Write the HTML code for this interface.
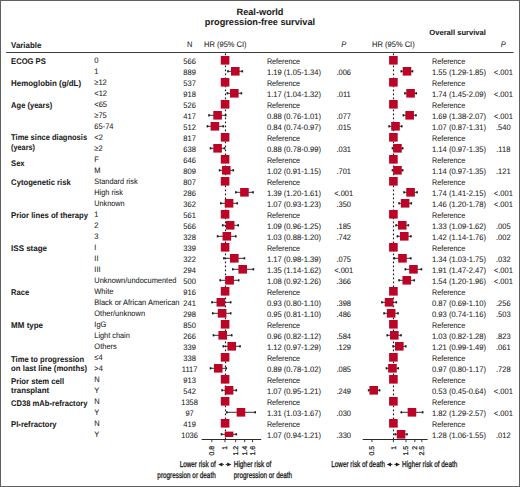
<!DOCTYPE html><html><head><meta charset="utf-8"><style>html,body{margin:0;padding:0;background:#fff}svg{display:block}text{text-rendering:geometricPrecision;font-family:"Liberation Sans",sans-serif;fill:#1a1a1a;stroke:#1a1a1a;stroke-width:0.06px}</style></head><body>
<svg width="520" height="487" viewBox="0 0 520 487">
<rect x="0" y="0" width="520" height="487" fill="#fff"/>
<text x="260.00" y="14.50" font-size="9.2" font-weight="bold" text-anchor="middle">Real-world</text>
<text x="260.00" y="24.90" font-size="9.2" font-weight="bold" text-anchor="middle">progression-free survival</text>
<text x="457.60" y="35.00" font-size="7.6" font-weight="bold" text-anchor="middle">Overall survival</text>
<text transform="translate(11.10,47.60) scale(0.960,1)" font-size="8.2" font-weight="bold">Variable</text>
<text transform="translate(189.60,46.60) scale(0.940,1)" font-size="8.0" text-anchor="middle">N</text>
<text transform="translate(225.30,46.60) scale(0.940,1)" font-size="8.0" text-anchor="middle">HR (95% CI)</text>
<text transform="translate(343.70,46.60) scale(0.940,1)" font-size="8.0" font-style="italic" text-anchor="middle">P</text>
<text transform="translate(393.40,46.60) scale(0.940,1)" font-size="8.0" text-anchor="middle">HR (95% CI)</text>
<text transform="translate(503.30,46.60) scale(0.940,1)" font-size="8.0" font-style="italic" text-anchor="middle">P</text>
<line x1="6.2" y1="52.5" x2="513.5" y2="52.5" stroke="#3c3c3c" stroke-width="1"/>
<line x1="225.5" y1="53.5" x2="225.5" y2="439.0" stroke="#1a1a1a" stroke-width="1.15" stroke-dasharray="1.7 2.3"/>
<line x1="393.5" y1="53.5" x2="393.5" y2="439.0" stroke="#1a1a1a" stroke-width="1.15" stroke-dasharray="1.7 2.3"/>
<text transform="translate(11.10,64.40) scale(0.929,1)" font-size="8.2" font-weight="bold">ECOG PS</text>
<text transform="translate(94.30,63.40) scale(0.940,1)" font-size="8.0">0</text>
<text transform="translate(189.60,63.70) scale(0.940,1)" font-size="8.0" text-anchor="middle">566</text>
<text transform="translate(266.90,63.70) scale(0.900,1)" font-size="8.0">Reference</text>
<rect x="220.80" y="56.00" width="8.6" height="8.6" fill="#bc0426"/>
<text transform="translate(432.00,63.70) scale(0.900,1)" font-size="8.0">Reference</text>
<rect x="389.10" y="56.00" width="8.6" height="8.6" fill="#bc0426"/>
<text transform="translate(94.30,74.40) scale(0.940,1)" font-size="8.0">1</text>
<text transform="translate(189.60,74.70) scale(0.940,1)" font-size="8.0" text-anchor="middle">889</text>
<text transform="translate(266.90,74.70) scale(0.950,1)" font-size="8.0">1.19 (1.05-1.34)</text>
<text transform="translate(343.70,74.70) scale(0.940,1)" font-size="8.0" text-anchor="middle">.006</text>
<line x1="227.96" y1="71.30" x2="242.28" y2="71.30" stroke="#1a1a1a" stroke-width="0.9"/>
<rect x="227.16" y="70.20" width="1.6" height="2.2" fill="#1a1a1a"/>
<rect x="241.48" y="70.20" width="1.6" height="2.2" fill="#1a1a1a"/>
<rect x="231.01" y="67.00" width="8.6" height="8.6" fill="#bc0426"/>
<text transform="translate(432.00,74.70) scale(0.950,1)" font-size="8.0">1.55 (1.29-1.85)</text>
<text transform="translate(503.30,74.70) scale(0.940,1)" font-size="8.0" text-anchor="middle">&lt;.001</text>
<line x1="401.29" y1="71.30" x2="412.47" y2="71.30" stroke="#1a1a1a" stroke-width="0.9"/>
<rect x="400.49" y="70.20" width="1.6" height="2.2" fill="#1a1a1a"/>
<rect x="411.67" y="70.20" width="1.6" height="2.2" fill="#1a1a1a"/>
<rect x="402.69" y="67.00" width="8.6" height="8.6" fill="#bc0426"/>
<text transform="translate(11.10,86.40) scale(0.967,1)" font-size="8.2" font-weight="bold">Hemoglobin (g/dL)</text>
<text transform="translate(94.30,85.40) scale(0.940,1)" font-size="8.0">≥12</text>
<text transform="translate(189.60,85.70) scale(0.940,1)" font-size="8.0" text-anchor="middle">537</text>
<text transform="translate(266.90,85.70) scale(0.900,1)" font-size="8.0">Reference</text>
<rect x="220.80" y="78.00" width="8.6" height="8.6" fill="#bc0426"/>
<text transform="translate(432.00,85.70) scale(0.900,1)" font-size="8.0">Reference</text>
<rect x="389.10" y="78.00" width="8.6" height="8.6" fill="#bc0426"/>
<text transform="translate(94.30,96.40) scale(0.940,1)" font-size="8.0">&lt;12</text>
<text transform="translate(189.60,96.70) scale(0.940,1)" font-size="8.0" text-anchor="middle">918</text>
<text transform="translate(266.90,96.70) scale(0.950,1)" font-size="8.0">1.17 (1.04-1.32)</text>
<text transform="translate(343.70,96.70) scale(0.940,1)" font-size="8.0" text-anchor="middle">.011</text>
<line x1="227.40" y1="93.30" x2="241.40" y2="93.30" stroke="#1a1a1a" stroke-width="0.9"/>
<rect x="226.60" y="92.20" width="1.6" height="2.2" fill="#1a1a1a"/>
<rect x="240.60" y="92.20" width="1.6" height="2.2" fill="#1a1a1a"/>
<rect x="230.02" y="89.00" width="8.6" height="8.6" fill="#bc0426"/>
<text transform="translate(432.00,96.70) scale(0.950,1)" font-size="8.0">1.74 (1.45-2.09)</text>
<text transform="translate(503.30,96.70) scale(0.940,1)" font-size="8.0" text-anchor="middle">&lt;.001</text>
<line x1="404.92" y1="93.30" x2="416.25" y2="93.30" stroke="#1a1a1a" stroke-width="0.9"/>
<rect x="404.12" y="92.20" width="1.6" height="2.2" fill="#1a1a1a"/>
<rect x="415.45" y="92.20" width="1.6" height="2.2" fill="#1a1a1a"/>
<rect x="406.27" y="89.00" width="8.6" height="8.6" fill="#bc0426"/>
<text transform="translate(11.10,108.40) scale(0.922,1)" font-size="8.2" font-weight="bold">Age (years)</text>
<text transform="translate(94.30,107.40) scale(0.940,1)" font-size="8.0">&lt;65</text>
<text transform="translate(189.60,107.70) scale(0.940,1)" font-size="8.0" text-anchor="middle">526</text>
<text transform="translate(266.90,107.70) scale(0.900,1)" font-size="8.0">Reference</text>
<rect x="220.80" y="100.00" width="8.6" height="8.6" fill="#bc0426"/>
<text transform="translate(432.00,107.70) scale(0.900,1)" font-size="8.0">Reference</text>
<rect x="389.10" y="100.00" width="8.6" height="8.6" fill="#bc0426"/>
<text transform="translate(94.30,118.40) scale(0.940,1)" font-size="8.0">≥75</text>
<text transform="translate(189.60,118.70) scale(0.940,1)" font-size="8.0" text-anchor="middle">417</text>
<text transform="translate(266.90,118.70) scale(0.950,1)" font-size="8.0">0.88 (0.76-1.01)</text>
<text transform="translate(343.70,118.70) scale(0.940,1)" font-size="8.0" text-anchor="middle">.077</text>
<line x1="208.99" y1="115.30" x2="225.68" y2="115.30" stroke="#1a1a1a" stroke-width="0.9"/>
<rect x="208.19" y="114.20" width="1.6" height="2.2" fill="#1a1a1a"/>
<rect x="224.88" y="114.20" width="1.6" height="2.2" fill="#1a1a1a"/>
<rect x="213.30" y="111.00" width="8.6" height="8.6" fill="#bc0426"/>
<text transform="translate(432.00,118.70) scale(0.950,1)" font-size="8.0">1.69 (1.38-2.07)</text>
<text transform="translate(503.30,118.70) scale(0.940,1)" font-size="8.0" text-anchor="middle">&lt;.001</text>
<line x1="403.38" y1="115.30" x2="415.95" y2="115.30" stroke="#1a1a1a" stroke-width="0.9"/>
<rect x="402.58" y="114.20" width="1.6" height="2.2" fill="#1a1a1a"/>
<rect x="415.15" y="114.20" width="1.6" height="2.2" fill="#1a1a1a"/>
<rect x="405.37" y="111.00" width="8.6" height="8.6" fill="#bc0426"/>
<text transform="translate(94.30,129.40) scale(0.940,1)" font-size="8.0">65-74</text>
<text transform="translate(189.60,129.70) scale(0.940,1)" font-size="8.0" text-anchor="middle">512</text>
<text transform="translate(266.90,129.70) scale(0.950,1)" font-size="8.0">0.84 (0.74-0.97)</text>
<text transform="translate(343.70,129.70) scale(0.940,1)" font-size="8.0" text-anchor="middle">.015</text>
<line x1="207.43" y1="126.30" x2="223.31" y2="126.30" stroke="#1a1a1a" stroke-width="0.9"/>
<rect x="206.63" y="125.20" width="1.6" height="2.2" fill="#1a1a1a"/>
<rect x="222.51" y="125.20" width="1.6" height="2.2" fill="#1a1a1a"/>
<rect x="210.57" y="122.00" width="8.6" height="8.6" fill="#bc0426"/>
<text transform="translate(432.00,129.70) scale(0.950,1)" font-size="8.0">1.07 (0.87-1.31)</text>
<text transform="translate(503.30,129.70) scale(0.940,1)" font-size="8.0" text-anchor="middle">.540</text>
<line x1="389.08" y1="126.30" x2="401.77" y2="126.30" stroke="#1a1a1a" stroke-width="0.9"/>
<rect x="388.28" y="125.20" width="1.6" height="2.2" fill="#1a1a1a"/>
<rect x="400.97" y="125.20" width="1.6" height="2.2" fill="#1a1a1a"/>
<rect x="391.20" y="122.00" width="8.6" height="8.6" fill="#bc0426"/>
<text transform="translate(11.10,140.40) scale(0.919,1)" font-size="8.2" font-weight="bold">Time since diagnosis</text>
<text transform="translate(11.10,149.60) scale(0.889,1)" font-size="8.2" font-weight="bold">(years)</text>
<text transform="translate(94.30,140.40) scale(0.940,1)" font-size="8.0">&lt;2</text>
<text transform="translate(189.60,140.70) scale(0.940,1)" font-size="8.0" text-anchor="middle">817</text>
<text transform="translate(266.90,140.70) scale(0.900,1)" font-size="8.0">Reference</text>
<rect x="220.80" y="133.00" width="8.6" height="8.6" fill="#bc0426"/>
<text transform="translate(432.00,140.70) scale(0.900,1)" font-size="8.0">Reference</text>
<rect x="389.10" y="133.00" width="8.6" height="8.6" fill="#bc0426"/>
<text transform="translate(94.30,151.40) scale(0.940,1)" font-size="8.0">≥2</text>
<text transform="translate(189.60,151.70) scale(0.940,1)" font-size="8.0" text-anchor="middle">638</text>
<text transform="translate(266.90,151.70) scale(0.950,1)" font-size="8.0">0.88 (0.78-0.99)</text>
<text transform="translate(343.70,151.70) scale(0.940,1)" font-size="8.0" text-anchor="middle">.031</text>
<line x1="210.52" y1="148.30" x2="224.51" y2="148.30" stroke="#1a1a1a" stroke-width="0.9"/>
<rect x="209.72" y="147.20" width="1.6" height="2.2" fill="#1a1a1a"/>
<rect x="223.71" y="147.20" width="1.6" height="2.2" fill="#1a1a1a"/>
<rect x="213.30" y="144.00" width="8.6" height="8.6" fill="#bc0426"/>
<text transform="translate(432.00,151.70) scale(0.950,1)" font-size="8.0">1.14 (0.97-1.35)</text>
<text transform="translate(503.30,151.70) scale(0.940,1)" font-size="8.0" text-anchor="middle">.118</text>
<line x1="392.46" y1="148.30" x2="402.70" y2="148.30" stroke="#1a1a1a" stroke-width="0.9"/>
<rect x="391.66" y="147.20" width="1.6" height="2.2" fill="#1a1a1a"/>
<rect x="401.90" y="147.20" width="1.6" height="2.2" fill="#1a1a1a"/>
<rect x="393.16" y="144.00" width="8.6" height="8.6" fill="#bc0426"/>
<text transform="translate(11.10,165.70) scale(0.925,1)" font-size="8.2" font-weight="bold">Sex</text>
<text transform="translate(94.30,162.40) scale(0.935,1)" font-size="8.0">F</text>
<text transform="translate(189.60,162.70) scale(0.940,1)" font-size="8.0" text-anchor="middle">646</text>
<text transform="translate(266.90,162.70) scale(0.900,1)" font-size="8.0">Reference</text>
<rect x="220.80" y="155.00" width="8.6" height="8.6" fill="#bc0426"/>
<text transform="translate(432.00,162.70) scale(0.900,1)" font-size="8.0">Reference</text>
<rect x="389.10" y="155.00" width="8.6" height="8.6" fill="#bc0426"/>
<text transform="translate(94.30,173.40) scale(0.935,1)" font-size="8.0">M</text>
<text transform="translate(189.60,173.70) scale(0.940,1)" font-size="8.0" text-anchor="middle">809</text>
<text transform="translate(266.90,173.70) scale(0.950,1)" font-size="8.0">1.02 (0.91-1.15)</text>
<text transform="translate(343.70,173.70) scale(0.940,1)" font-size="8.0" text-anchor="middle">.701</text>
<line x1="219.56" y1="170.30" x2="233.30" y2="170.30" stroke="#1a1a1a" stroke-width="0.9"/>
<rect x="218.76" y="169.20" width="1.6" height="2.2" fill="#1a1a1a"/>
<rect x="232.50" y="169.20" width="1.6" height="2.2" fill="#1a1a1a"/>
<rect x="221.96" y="166.00" width="8.6" height="8.6" fill="#bc0426"/>
<text transform="translate(432.00,173.70) scale(0.950,1)" font-size="8.0">1.14 (0.97-1.35)</text>
<text transform="translate(503.30,173.70) scale(0.940,1)" font-size="8.0" text-anchor="middle">.121</text>
<line x1="392.46" y1="170.30" x2="402.70" y2="170.30" stroke="#1a1a1a" stroke-width="0.9"/>
<rect x="391.66" y="169.20" width="1.6" height="2.2" fill="#1a1a1a"/>
<rect x="401.90" y="169.20" width="1.6" height="2.2" fill="#1a1a1a"/>
<rect x="393.16" y="166.00" width="8.6" height="8.6" fill="#bc0426"/>
<text transform="translate(11.10,184.70) scale(0.936,1)" font-size="8.2" font-weight="bold">Cytogenetic risk</text>
<text transform="translate(94.30,184.40) scale(0.918,1)" font-size="8.0">Standard risk</text>
<text transform="translate(189.60,184.70) scale(0.940,1)" font-size="8.0" text-anchor="middle">807</text>
<text transform="translate(266.90,184.70) scale(0.900,1)" font-size="8.0">Reference</text>
<rect x="220.80" y="177.00" width="8.6" height="8.6" fill="#bc0426"/>
<text transform="translate(432.00,184.70) scale(0.900,1)" font-size="8.0">Reference</text>
<rect x="389.10" y="177.00" width="8.6" height="8.6" fill="#bc0426"/>
<text transform="translate(94.30,195.40) scale(0.919,1)" font-size="8.0">High risk</text>
<text transform="translate(189.60,195.70) scale(0.940,1)" font-size="8.0" text-anchor="middle">286</text>
<text transform="translate(266.90,195.70) scale(0.950,1)" font-size="8.0">1.39 (1.20-1.61)</text>
<text transform="translate(343.70,195.70) scale(0.940,1)" font-size="8.0" text-anchor="middle">&lt;.001</text>
<line x1="235.80" y1="192.30" x2="253.05" y2="192.30" stroke="#1a1a1a" stroke-width="0.9"/>
<rect x="235.00" y="191.20" width="1.6" height="2.2" fill="#1a1a1a"/>
<rect x="252.25" y="191.20" width="1.6" height="2.2" fill="#1a1a1a"/>
<rect x="240.13" y="188.00" width="8.6" height="8.6" fill="#bc0426"/>
<text transform="translate(432.00,195.70) scale(0.950,1)" font-size="8.0">1.74 (1.41-2.15)</text>
<text transform="translate(503.30,195.70) scale(0.940,1)" font-size="8.0" text-anchor="middle">&lt;.001</text>
<line x1="404.05" y1="192.30" x2="417.13" y2="192.30" stroke="#1a1a1a" stroke-width="0.9"/>
<rect x="403.25" y="191.20" width="1.6" height="2.2" fill="#1a1a1a"/>
<rect x="416.33" y="191.20" width="1.6" height="2.2" fill="#1a1a1a"/>
<rect x="406.27" y="188.00" width="8.6" height="8.6" fill="#bc0426"/>
<text transform="translate(94.30,206.40) scale(0.908,1)" font-size="8.0">Unknown</text>
<text transform="translate(189.60,206.70) scale(0.940,1)" font-size="8.0" text-anchor="middle">362</text>
<text transform="translate(266.90,206.70) scale(0.950,1)" font-size="8.0">1.07 (0.93-1.23)</text>
<text transform="translate(343.70,206.70) scale(0.940,1)" font-size="8.0" text-anchor="middle">.350</text>
<line x1="220.84" y1="203.30" x2="237.25" y2="203.30" stroke="#1a1a1a" stroke-width="0.9"/>
<rect x="220.04" y="202.20" width="1.6" height="2.2" fill="#1a1a1a"/>
<rect x="236.45" y="202.20" width="1.6" height="2.2" fill="#1a1a1a"/>
<rect x="224.77" y="199.00" width="8.6" height="8.6" fill="#bc0426"/>
<text transform="translate(432.00,206.70) scale(0.950,1)" font-size="8.0">1.46 (1.20-1.78)</text>
<text transform="translate(503.30,206.70) scale(0.940,1)" font-size="8.0" text-anchor="middle">&lt;.001</text>
<line x1="399.05" y1="203.30" x2="411.28" y2="203.30" stroke="#1a1a1a" stroke-width="0.9"/>
<rect x="398.25" y="202.20" width="1.6" height="2.2" fill="#1a1a1a"/>
<rect x="410.48" y="202.20" width="1.6" height="2.2" fill="#1a1a1a"/>
<rect x="400.83" y="199.00" width="8.6" height="8.6" fill="#bc0426"/>
<text transform="translate(11.10,218.00) scale(0.940,1)" font-size="8.2" font-weight="bold">Prior lines of therapy</text>
<text transform="translate(94.30,217.40) scale(0.940,1)" font-size="8.0">1</text>
<text transform="translate(189.60,217.70) scale(0.940,1)" font-size="8.0" text-anchor="middle">561</text>
<text transform="translate(266.90,217.70) scale(0.900,1)" font-size="8.0">Reference</text>
<rect x="220.80" y="210.00" width="8.6" height="8.6" fill="#bc0426"/>
<text transform="translate(432.00,217.70) scale(0.900,1)" font-size="8.0">Reference</text>
<rect x="389.10" y="210.00" width="8.6" height="8.6" fill="#bc0426"/>
<text transform="translate(94.30,228.40) scale(0.940,1)" font-size="8.0">2</text>
<text transform="translate(189.60,228.70) scale(0.940,1)" font-size="8.0" text-anchor="middle">566</text>
<text transform="translate(266.90,228.70) scale(0.950,1)" font-size="8.0">1.09 (0.96-1.25)</text>
<text transform="translate(343.70,228.70) scale(0.940,1)" font-size="8.0" text-anchor="middle">.185</text>
<line x1="222.70" y1="225.30" x2="238.20" y2="225.30" stroke="#1a1a1a" stroke-width="0.9"/>
<rect x="221.90" y="224.20" width="1.6" height="2.2" fill="#1a1a1a"/>
<rect x="237.40" y="224.20" width="1.6" height="2.2" fill="#1a1a1a"/>
<rect x="225.86" y="221.00" width="8.6" height="8.6" fill="#bc0426"/>
<text transform="translate(432.00,228.70) scale(0.950,1)" font-size="8.0">1.33 (1.09-1.62)</text>
<text transform="translate(503.30,228.70) scale(0.940,1)" font-size="8.0" text-anchor="middle">.005</text>
<line x1="396.07" y1="225.30" x2="408.36" y2="225.30" stroke="#1a1a1a" stroke-width="0.9"/>
<rect x="395.27" y="224.20" width="1.6" height="2.2" fill="#1a1a1a"/>
<rect x="407.56" y="224.20" width="1.6" height="2.2" fill="#1a1a1a"/>
<rect x="397.94" y="221.00" width="8.6" height="8.6" fill="#bc0426"/>
<text transform="translate(94.30,239.40) scale(0.940,1)" font-size="8.0">3</text>
<text transform="translate(189.60,239.70) scale(0.940,1)" font-size="8.0" text-anchor="middle">328</text>
<text transform="translate(266.90,239.70) scale(0.950,1)" font-size="8.0">1.03 (0.88-1.20)</text>
<text transform="translate(343.70,239.70) scale(0.940,1)" font-size="8.0" text-anchor="middle">.742</text>
<line x1="217.60" y1="236.30" x2="235.80" y2="236.30" stroke="#1a1a1a" stroke-width="0.9"/>
<rect x="216.80" y="235.20" width="1.6" height="2.2" fill="#1a1a1a"/>
<rect x="235.00" y="235.20" width="1.6" height="2.2" fill="#1a1a1a"/>
<rect x="222.54" y="232.00" width="8.6" height="8.6" fill="#bc0426"/>
<text transform="translate(432.00,239.70) scale(0.950,1)" font-size="8.0">1.42 (1.14-1.76)</text>
<text transform="translate(503.30,239.70) scale(0.940,1)" font-size="8.0" text-anchor="middle">.002</text>
<line x1="397.46" y1="236.30" x2="410.92" y2="236.30" stroke="#1a1a1a" stroke-width="0.9"/>
<rect x="396.66" y="235.20" width="1.6" height="2.2" fill="#1a1a1a"/>
<rect x="410.12" y="235.20" width="1.6" height="2.2" fill="#1a1a1a"/>
<rect x="399.97" y="232.00" width="8.6" height="8.6" fill="#bc0426"/>
<text transform="translate(11.10,250.70) scale(0.975,1)" font-size="8.2" font-weight="bold">ISS stage</text>
<text transform="translate(94.30,250.40) scale(0.935,1)" font-size="8.0">I</text>
<text transform="translate(189.60,250.70) scale(0.940,1)" font-size="8.0" text-anchor="middle">339</text>
<text transform="translate(266.90,250.70) scale(0.900,1)" font-size="8.0">Reference</text>
<rect x="220.80" y="243.00" width="8.6" height="8.6" fill="#bc0426"/>
<text transform="translate(432.00,250.70) scale(0.900,1)" font-size="8.0">Reference</text>
<rect x="389.10" y="243.00" width="8.6" height="8.6" fill="#bc0426"/>
<text transform="translate(94.30,261.40) scale(0.935,1)" font-size="8.0">II</text>
<text transform="translate(189.60,261.70) scale(0.940,1)" font-size="8.0" text-anchor="middle">322</text>
<text transform="translate(266.90,261.70) scale(0.950,1)" font-size="8.0">1.17 (0.98-1.39)</text>
<text transform="translate(343.70,261.70) scale(0.940,1)" font-size="8.0" text-anchor="middle">.075</text>
<line x1="223.91" y1="258.30" x2="244.43" y2="258.30" stroke="#1a1a1a" stroke-width="0.9"/>
<rect x="223.11" y="257.20" width="1.6" height="2.2" fill="#1a1a1a"/>
<rect x="243.63" y="257.20" width="1.6" height="2.2" fill="#1a1a1a"/>
<rect x="230.02" y="254.00" width="8.6" height="8.6" fill="#bc0426"/>
<text transform="translate(432.00,261.70) scale(0.950,1)" font-size="8.0">1.34 (1.03-1.75)</text>
<text transform="translate(503.30,261.70) scale(0.940,1)" font-size="8.0" text-anchor="middle">.032</text>
<line x1="394.32" y1="258.30" x2="410.75" y2="258.30" stroke="#1a1a1a" stroke-width="0.9"/>
<rect x="393.52" y="257.20" width="1.6" height="2.2" fill="#1a1a1a"/>
<rect x="409.95" y="257.20" width="1.6" height="2.2" fill="#1a1a1a"/>
<rect x="398.17" y="254.00" width="8.6" height="8.6" fill="#bc0426"/>
<text transform="translate(94.30,272.40) scale(0.935,1)" font-size="8.0">III</text>
<text transform="translate(189.60,272.70) scale(0.940,1)" font-size="8.0" text-anchor="middle">294</text>
<text transform="translate(266.90,272.70) scale(0.950,1)" font-size="8.0">1.35 (1.14-1.62)</text>
<text transform="translate(343.70,272.70) scale(0.940,1)" font-size="8.0" text-anchor="middle">&lt;.001</text>
<line x1="232.79" y1="269.30" x2="253.42" y2="269.30" stroke="#1a1a1a" stroke-width="0.9"/>
<rect x="231.99" y="268.20" width="1.6" height="2.2" fill="#1a1a1a"/>
<rect x="252.62" y="268.20" width="1.6" height="2.2" fill="#1a1a1a"/>
<rect x="238.42" y="265.00" width="8.6" height="8.6" fill="#bc0426"/>
<text transform="translate(432.00,272.70) scale(0.950,1)" font-size="8.0">1.91 (1.47-2.47)</text>
<text transform="translate(503.30,272.70) scale(0.940,1)" font-size="8.0" text-anchor="middle">&lt;.001</text>
<line x1="405.34" y1="269.30" x2="421.43" y2="269.30" stroke="#1a1a1a" stroke-width="0.9"/>
<rect x="404.54" y="268.20" width="1.6" height="2.2" fill="#1a1a1a"/>
<rect x="420.63" y="268.20" width="1.6" height="2.2" fill="#1a1a1a"/>
<rect x="409.16" y="265.00" width="8.6" height="8.6" fill="#bc0426"/>
<text transform="translate(94.30,283.40) scale(0.928,1)" font-size="8.0">Unknown/undocumented</text>
<text transform="translate(189.60,283.70) scale(0.940,1)" font-size="8.0" text-anchor="middle">500</text>
<text transform="translate(266.90,283.70) scale(0.950,1)" font-size="8.0">1.08 (0.92-1.26)</text>
<text transform="translate(343.70,283.70) scale(0.940,1)" font-size="8.0" text-anchor="middle">.366</text>
<line x1="220.21" y1="280.30" x2="238.67" y2="280.30" stroke="#1a1a1a" stroke-width="0.9"/>
<rect x="219.41" y="279.20" width="1.6" height="2.2" fill="#1a1a1a"/>
<rect x="237.87" y="279.20" width="1.6" height="2.2" fill="#1a1a1a"/>
<rect x="225.32" y="276.00" width="8.6" height="8.6" fill="#bc0426"/>
<text transform="translate(432.00,283.70) scale(0.950,1)" font-size="8.0">1.54 (1.20-1.96)</text>
<text transform="translate(503.30,283.70) scale(0.940,1)" font-size="8.0" text-anchor="middle">&lt;.001</text>
<line x1="399.05" y1="280.30" x2="414.26" y2="280.30" stroke="#1a1a1a" stroke-width="0.9"/>
<rect x="398.25" y="279.20" width="1.6" height="2.2" fill="#1a1a1a"/>
<rect x="413.46" y="279.20" width="1.6" height="2.2" fill="#1a1a1a"/>
<rect x="402.49" y="276.00" width="8.6" height="8.6" fill="#bc0426"/>
<text transform="translate(11.10,294.70) scale(0.923,1)" font-size="8.2" font-weight="bold">Race</text>
<text transform="translate(94.30,294.40) scale(0.935,1)" font-size="8.0">White</text>
<text transform="translate(189.60,294.70) scale(0.940,1)" font-size="8.0" text-anchor="middle">916</text>
<text transform="translate(266.90,294.70) scale(0.900,1)" font-size="8.0">Reference</text>
<rect x="220.80" y="287.00" width="8.6" height="8.6" fill="#bc0426"/>
<text transform="translate(432.00,294.70) scale(0.900,1)" font-size="8.0">Reference</text>
<rect x="389.10" y="287.00" width="8.6" height="8.6" fill="#bc0426"/>
<text transform="translate(94.30,305.40) scale(0.935,1)" font-size="8.0">Black or African American</text>
<text transform="translate(189.60,305.70) scale(0.940,1)" font-size="8.0" text-anchor="middle">241</text>
<text transform="translate(266.90,305.70) scale(0.950,1)" font-size="8.0">0.93 (0.80-1.10)</text>
<text transform="translate(343.70,305.70) scale(0.940,1)" font-size="8.0" text-anchor="middle">.398</text>
<line x1="212.00" y1="302.30" x2="230.69" y2="302.30" stroke="#1a1a1a" stroke-width="0.9"/>
<rect x="211.20" y="301.20" width="1.6" height="2.2" fill="#1a1a1a"/>
<rect x="229.89" y="301.20" width="1.6" height="2.2" fill="#1a1a1a"/>
<rect x="216.54" y="298.00" width="8.6" height="8.6" fill="#bc0426"/>
<text transform="translate(432.00,305.70) scale(0.950,1)" font-size="8.0">0.87 (0.69-1.10)</text>
<text transform="translate(503.30,305.70) scale(0.940,1)" font-size="8.0" text-anchor="middle">.256</text>
<line x1="381.90" y1="302.30" x2="396.35" y2="302.30" stroke="#1a1a1a" stroke-width="0.9"/>
<rect x="381.10" y="301.20" width="1.6" height="2.2" fill="#1a1a1a"/>
<rect x="395.55" y="301.20" width="1.6" height="2.2" fill="#1a1a1a"/>
<rect x="384.78" y="298.00" width="8.6" height="8.6" fill="#bc0426"/>
<text transform="translate(94.30,316.40) scale(0.936,1)" font-size="8.0">Other/unknown</text>
<text transform="translate(189.60,316.70) scale(0.940,1)" font-size="8.0" text-anchor="middle">298</text>
<text transform="translate(266.90,316.70) scale(0.950,1)" font-size="8.0">0.95 (0.81-1.10)</text>
<text transform="translate(343.70,316.70) scale(0.940,1)" font-size="8.0" text-anchor="middle">.486</text>
<line x1="212.73" y1="313.30" x2="230.69" y2="313.30" stroke="#1a1a1a" stroke-width="0.9"/>
<rect x="211.93" y="312.20" width="1.6" height="2.2" fill="#1a1a1a"/>
<rect x="229.89" y="312.20" width="1.6" height="2.2" fill="#1a1a1a"/>
<rect x="217.79" y="309.00" width="8.6" height="8.6" fill="#bc0426"/>
<text transform="translate(432.00,316.70) scale(0.950,1)" font-size="8.0">0.93 (0.74-1.16)</text>
<text transform="translate(503.30,316.70) scale(0.940,1)" font-size="8.0" text-anchor="middle">.503</text>
<line x1="384.07" y1="313.30" x2="398.00" y2="313.30" stroke="#1a1a1a" stroke-width="0.9"/>
<rect x="383.27" y="312.20" width="1.6" height="2.2" fill="#1a1a1a"/>
<rect x="397.20" y="312.20" width="1.6" height="2.2" fill="#1a1a1a"/>
<rect x="386.85" y="309.00" width="8.6" height="8.6" fill="#bc0426"/>
<text transform="translate(11.10,327.70) scale(0.976,1)" font-size="8.2" font-weight="bold">MM type</text>
<text transform="translate(94.30,327.40) scale(0.935,1)" font-size="8.0">IgG</text>
<text transform="translate(189.60,327.70) scale(0.940,1)" font-size="8.0" text-anchor="middle">850</text>
<text transform="translate(266.90,327.70) scale(0.900,1)" font-size="8.0">Reference</text>
<rect x="220.80" y="320.00" width="8.6" height="8.6" fill="#bc0426"/>
<text transform="translate(432.00,327.70) scale(0.900,1)" font-size="8.0">Reference</text>
<rect x="389.10" y="320.00" width="8.6" height="8.6" fill="#bc0426"/>
<text transform="translate(94.30,338.40) scale(0.917,1)" font-size="8.0">Light chain</text>
<text transform="translate(189.60,338.70) scale(0.940,1)" font-size="8.0" text-anchor="middle">266</text>
<text transform="translate(266.90,338.70) scale(0.950,1)" font-size="8.0">0.96 (0.82-1.12)</text>
<text transform="translate(343.70,338.70) scale(0.940,1)" font-size="8.0" text-anchor="middle">.584</text>
<line x1="213.45" y1="335.30" x2="231.75" y2="335.30" stroke="#1a1a1a" stroke-width="0.9"/>
<rect x="212.65" y="334.20" width="1.6" height="2.2" fill="#1a1a1a"/>
<rect x="230.95" y="334.20" width="1.6" height="2.2" fill="#1a1a1a"/>
<rect x="218.40" y="331.00" width="8.6" height="8.6" fill="#bc0426"/>
<text transform="translate(432.00,338.70) scale(0.950,1)" font-size="8.0">1.03 (0.82-1.28)</text>
<text transform="translate(503.30,338.70) scale(0.940,1)" font-size="8.0" text-anchor="middle">.823</text>
<line x1="387.25" y1="335.30" x2="401.05" y2="335.30" stroke="#1a1a1a" stroke-width="0.9"/>
<rect x="386.45" y="334.20" width="1.6" height="2.2" fill="#1a1a1a"/>
<rect x="400.25" y="334.20" width="1.6" height="2.2" fill="#1a1a1a"/>
<rect x="390.02" y="331.00" width="8.6" height="8.6" fill="#bc0426"/>
<text transform="translate(94.30,349.40) scale(0.937,1)" font-size="8.0">Others</text>
<text transform="translate(189.60,349.70) scale(0.940,1)" font-size="8.0" text-anchor="middle">339</text>
<text transform="translate(266.90,349.70) scale(0.950,1)" font-size="8.0">1.12 (0.97-1.29)</text>
<text transform="translate(343.70,349.70) scale(0.940,1)" font-size="8.0" text-anchor="middle">.129</text>
<line x1="223.31" y1="346.30" x2="240.05" y2="346.30" stroke="#1a1a1a" stroke-width="0.9"/>
<rect x="222.51" y="345.20" width="1.6" height="2.2" fill="#1a1a1a"/>
<rect x="239.25" y="345.20" width="1.6" height="2.2" fill="#1a1a1a"/>
<rect x="227.45" y="342.00" width="8.6" height="8.6" fill="#bc0426"/>
<text transform="translate(432.00,349.70) scale(0.950,1)" font-size="8.0">1.21 (0.99-1.49)</text>
<text transform="translate(503.30,349.70) scale(0.940,1)" font-size="8.0" text-anchor="middle">.061</text>
<line x1="393.09" y1="346.30" x2="405.76" y2="346.30" stroke="#1a1a1a" stroke-width="0.9"/>
<rect x="392.29" y="345.20" width="1.6" height="2.2" fill="#1a1a1a"/>
<rect x="404.96" y="345.20" width="1.6" height="2.2" fill="#1a1a1a"/>
<rect x="395.01" y="342.00" width="8.6" height="8.6" fill="#bc0426"/>
<text transform="translate(11.10,362.20) scale(0.929,1)" font-size="8.2" font-weight="bold">Time to progression</text>
<text transform="translate(11.10,371.40) scale(0.949,1)" font-size="8.2" font-weight="bold">on last line (months)</text>
<text transform="translate(94.30,360.40) scale(0.940,1)" font-size="8.0">≤4</text>
<text transform="translate(189.60,360.70) scale(0.940,1)" font-size="8.0" text-anchor="middle">338</text>
<text transform="translate(266.90,360.70) scale(0.900,1)" font-size="8.0">Reference</text>
<rect x="220.80" y="353.00" width="8.6" height="8.6" fill="#bc0426"/>
<text transform="translate(432.00,360.70) scale(0.900,1)" font-size="8.0">Reference</text>
<rect x="389.10" y="353.00" width="8.6" height="8.6" fill="#bc0426"/>
<text transform="translate(94.30,371.40) scale(0.940,1)" font-size="8.0">&gt;4</text>
<text transform="translate(189.60,371.70) scale(0.940,1)" font-size="8.0" text-anchor="middle">1117</text>
<text transform="translate(266.90,371.70) scale(0.950,1)" font-size="8.0">0.89 (0.78-1.02)</text>
<text transform="translate(343.70,371.70) scale(0.940,1)" font-size="8.0" text-anchor="middle">.085</text>
<line x1="210.52" y1="368.30" x2="226.26" y2="368.30" stroke="#1a1a1a" stroke-width="0.9"/>
<rect x="209.72" y="367.20" width="1.6" height="2.2" fill="#1a1a1a"/>
<rect x="225.46" y="367.20" width="1.6" height="2.2" fill="#1a1a1a"/>
<rect x="213.96" y="364.00" width="8.6" height="8.6" fill="#bc0426"/>
<text transform="translate(432.00,371.70) scale(0.950,1)" font-size="8.0">0.97 (0.80-1.17)</text>
<text transform="translate(503.30,371.70) scale(0.940,1)" font-size="8.0" text-anchor="middle">.728</text>
<line x1="386.48" y1="368.30" x2="398.27" y2="368.30" stroke="#1a1a1a" stroke-width="0.9"/>
<rect x="385.68" y="367.20" width="1.6" height="2.2" fill="#1a1a1a"/>
<rect x="397.47" y="367.20" width="1.6" height="2.2" fill="#1a1a1a"/>
<rect x="388.16" y="364.00" width="8.6" height="8.6" fill="#bc0426"/>
<text transform="translate(11.10,384.10) scale(0.938,1)" font-size="8.2" font-weight="bold">Prior stem cell</text>
<text transform="translate(11.10,393.30) scale(0.959,1)" font-size="8.2" font-weight="bold">transplant</text>
<text transform="translate(94.30,382.40) scale(0.935,1)" font-size="8.0">N</text>
<text transform="translate(189.60,382.70) scale(0.940,1)" font-size="8.0" text-anchor="middle">913</text>
<text transform="translate(266.90,382.70) scale(0.900,1)" font-size="8.0">Reference</text>
<rect x="220.80" y="375.00" width="8.6" height="8.6" fill="#bc0426"/>
<text transform="translate(432.00,382.70) scale(0.900,1)" font-size="8.0">Reference</text>
<rect x="389.10" y="375.00" width="8.6" height="8.6" fill="#bc0426"/>
<text transform="translate(94.30,393.40) scale(0.935,1)" font-size="8.0">Y</text>
<text transform="translate(189.60,393.70) scale(0.940,1)" font-size="8.0" text-anchor="middle">542</text>
<text transform="translate(266.90,393.70) scale(0.950,1)" font-size="8.0">1.07 (0.95-1.21)</text>
<text transform="translate(343.70,393.70) scale(0.940,1)" font-size="8.0" text-anchor="middle">.249</text>
<line x1="222.09" y1="390.30" x2="236.29" y2="390.30" stroke="#1a1a1a" stroke-width="0.9"/>
<rect x="221.29" y="389.20" width="1.6" height="2.2" fill="#1a1a1a"/>
<rect x="235.49" y="389.20" width="1.6" height="2.2" fill="#1a1a1a"/>
<rect x="224.77" y="386.00" width="8.6" height="8.6" fill="#bc0426"/>
<text transform="translate(432.00,393.70) scale(0.950,1)" font-size="8.0">0.53 (0.45-0.64)</text>
<text transform="translate(503.30,393.70) scale(0.940,1)" font-size="8.0" text-anchor="middle">&lt;.001</text>
<line x1="368.65" y1="390.30" x2="379.57" y2="390.30" stroke="#1a1a1a" stroke-width="0.9"/>
<rect x="367.85" y="389.20" width="1.6" height="2.2" fill="#1a1a1a"/>
<rect x="378.77" y="389.20" width="1.6" height="2.2" fill="#1a1a1a"/>
<rect x="369.42" y="386.00" width="8.6" height="8.6" fill="#bc0426"/>
<text transform="translate(11.10,405.70) scale(0.927,1)" font-size="8.2" font-weight="bold">CD38 mAb-refractory</text>
<text transform="translate(94.30,404.40) scale(0.935,1)" font-size="8.0">N</text>
<text transform="translate(189.60,404.70) scale(0.940,1)" font-size="8.0" text-anchor="middle">1358</text>
<text transform="translate(266.90,404.70) scale(0.900,1)" font-size="8.0">Reference</text>
<rect x="220.80" y="397.00" width="8.6" height="8.6" fill="#bc0426"/>
<text transform="translate(432.00,404.70) scale(0.900,1)" font-size="8.0">Reference</text>
<rect x="389.10" y="397.00" width="8.6" height="8.6" fill="#bc0426"/>
<text transform="translate(94.30,415.40) scale(0.935,1)" font-size="8.0">Y</text>
<text transform="translate(189.60,415.70) scale(0.940,1)" font-size="8.0" text-anchor="middle">97</text>
<text transform="translate(266.90,415.70) scale(0.950,1)" font-size="8.0">1.31 (1.03-1.67)</text>
<text transform="translate(343.70,415.70) scale(0.940,1)" font-size="8.0" text-anchor="middle">.030</text>
<line x1="226.84" y1="412.30" x2="255.20" y2="412.30" stroke="#1a1a1a" stroke-width="0.9"/>
<rect x="226.04" y="411.20" width="1.6" height="2.2" fill="#1a1a1a"/>
<rect x="254.40" y="411.20" width="1.6" height="2.2" fill="#1a1a1a"/>
<rect x="236.65" y="408.00" width="8.6" height="8.6" fill="#bc0426"/>
<text transform="translate(432.00,415.70) scale(0.950,1)" font-size="8.0">1.82 (1.29-2.57)</text>
<text transform="translate(503.30,415.70) scale(0.940,1)" font-size="8.0" text-anchor="middle">&lt;.001</text>
<line x1="401.29" y1="412.30" x2="422.66" y2="412.30" stroke="#1a1a1a" stroke-width="0.9"/>
<rect x="400.49" y="411.20" width="1.6" height="2.2" fill="#1a1a1a"/>
<rect x="421.86" y="411.20" width="1.6" height="2.2" fill="#1a1a1a"/>
<rect x="407.66" y="408.00" width="8.6" height="8.6" fill="#bc0426"/>
<text transform="translate(11.10,426.70) scale(0.935,1)" font-size="8.2" font-weight="bold">PI-refractory</text>
<text transform="translate(94.30,426.40) scale(0.935,1)" font-size="8.0">N</text>
<text transform="translate(189.60,426.70) scale(0.940,1)" font-size="8.0" text-anchor="middle">419</text>
<text transform="translate(266.90,426.70) scale(0.900,1)" font-size="8.0">Reference</text>
<rect x="220.80" y="419.00" width="8.6" height="8.6" fill="#bc0426"/>
<text transform="translate(432.00,426.70) scale(0.900,1)" font-size="8.0">Reference</text>
<rect x="389.10" y="419.00" width="8.6" height="8.6" fill="#bc0426"/>
<text transform="translate(94.30,437.40) scale(0.935,1)" font-size="8.0">Y</text>
<text transform="translate(189.60,437.70) scale(0.940,1)" font-size="8.0" text-anchor="middle">1036</text>
<text transform="translate(266.90,437.70) scale(0.950,1)" font-size="8.0">1.07 (0.94-1.21)</text>
<text transform="translate(343.70,437.70) scale(0.940,1)" font-size="8.0" text-anchor="middle">.330</text>
<line x1="221.47" y1="434.30" x2="236.29" y2="434.30" stroke="#1a1a1a" stroke-width="0.9"/>
<rect x="220.67" y="433.20" width="1.6" height="2.2" fill="#1a1a1a"/>
<rect x="235.49" y="433.20" width="1.6" height="2.2" fill="#1a1a1a"/>
<rect x="224.77" y="431.60" width="8.6" height="5.4" fill="#bc0426"/>
<text transform="translate(432.00,437.70) scale(0.950,1)" font-size="8.0">1.28 (1.06-1.55)</text>
<text transform="translate(503.30,437.70) scale(0.940,1)" font-size="8.0" text-anchor="middle">.012</text>
<line x1="395.21" y1="434.30" x2="406.99" y2="434.30" stroke="#1a1a1a" stroke-width="0.9"/>
<rect x="394.41" y="433.20" width="1.6" height="2.2" fill="#1a1a1a"/>
<rect x="406.19" y="433.20" width="1.6" height="2.2" fill="#1a1a1a"/>
<rect x="396.75" y="430.00" width="8.6" height="8.6" fill="#bc0426"/>
<line x1="201.7" y1="439.5" x2="261.2" y2="439.5" stroke="#2a2a2a" stroke-width="1"/>
<line x1="211.85" y1="439.5" x2="211.85" y2="442.2" stroke="#2a2a2a" stroke-width="0.9"/>
<text transform="translate(214.05,446.00) rotate(-90) scale(1.0,1)" font-size="6.9" text-anchor="end" style="stroke-width:0.25px">0.8</text>
<line x1="224.95" y1="439.5" x2="224.95" y2="442.2" stroke="#2a2a2a" stroke-width="0.9"/>
<text transform="translate(227.15,446.00) rotate(-90) scale(1.0,1)" font-size="6.9" text-anchor="end" style="stroke-width:0.25px">1</text>
<line x1="235.65" y1="439.5" x2="235.65" y2="442.2" stroke="#2a2a2a" stroke-width="0.9"/>
<text transform="translate(237.85,446.00) rotate(-90) scale(1.0,1)" font-size="6.9" text-anchor="end" style="stroke-width:0.25px">1.2</text>
<line x1="244.70" y1="439.5" x2="244.70" y2="442.2" stroke="#2a2a2a" stroke-width="0.9"/>
<text transform="translate(246.90,446.00) rotate(-90) scale(1.0,1)" font-size="6.9" text-anchor="end" style="stroke-width:0.25px">1.4</text>
<line x1="252.54" y1="439.5" x2="252.54" y2="442.2" stroke="#2a2a2a" stroke-width="0.9"/>
<text transform="translate(254.74,446.00) rotate(-90) scale(1.0,1)" font-size="6.9" text-anchor="end" style="stroke-width:0.25px">1.6</text>
<line x1="362.7" y1="439.5" x2="427.6" y2="439.5" stroke="#2a2a2a" stroke-width="1"/>
<line x1="371.91" y1="439.5" x2="371.91" y2="442.2" stroke="#2a2a2a" stroke-width="0.9"/>
<text transform="translate(374.11,446.00) rotate(-90) scale(1.0,1)" font-size="6.9" text-anchor="end" style="stroke-width:0.25px">0.5</text>
<line x1="393.40" y1="439.5" x2="393.40" y2="442.2" stroke="#2a2a2a" stroke-width="0.9"/>
<text transform="translate(395.60,446.00) rotate(-90) scale(1.0,1)" font-size="6.9" text-anchor="end" style="stroke-width:0.25px">1</text>
<line x1="405.97" y1="439.5" x2="405.97" y2="442.2" stroke="#2a2a2a" stroke-width="0.9"/>
<text transform="translate(408.17,446.00) rotate(-90) scale(1.0,1)" font-size="6.9" text-anchor="end" style="stroke-width:0.25px">1.5</text>
<line x1="414.89" y1="439.5" x2="414.89" y2="442.2" stroke="#2a2a2a" stroke-width="0.9"/>
<text transform="translate(417.09,446.00) rotate(-90) scale(1.0,1)" font-size="6.9" text-anchor="end" style="stroke-width:0.25px">2</text>
<line x1="421.81" y1="439.5" x2="421.81" y2="442.2" stroke="#2a2a2a" stroke-width="0.9"/>
<text transform="translate(424.01,446.00) rotate(-90) scale(1.0,1)" font-size="6.9" text-anchor="end" style="stroke-width:0.25px">2.5</text>
<text transform="translate(215.70,466.50) scale(0.740,1)" font-size="8.6" text-anchor="end" style="stroke-width:0.3px">Lower risk of</text>
<text transform="translate(215.70,477.50) scale(0.740,1)" font-size="8.6" text-anchor="end" style="stroke-width:0.3px">progression or death</text>
<text transform="translate(233.80,466.50) scale(0.740,1)" font-size="8.6" style="stroke-width:0.3px">Higher risk of</text>
<text transform="translate(233.80,477.50) scale(0.740,1)" font-size="8.6" style="stroke-width:0.3px">progression or death</text>
<text transform="translate(385.00,466.50) scale(0.740,1)" font-size="8.6" text-anchor="end" style="stroke-width:0.3px">Lower risk of death</text>
<text transform="translate(402.10,466.50) scale(0.740,1)" font-size="8.6" style="stroke-width:0.3px">Higher risk of death</text>
<path d="M218.20,464.4 l4.2,-2.0 v4.0 z" fill="#1a1a1a"/>
<line x1="222.20" y1="464.4" x2="223.90" y2="464.4" stroke="#1a1a1a" stroke-width="0.9"/>
<path d="M231.40,464.4 l-4.2,-2.0 v4.0 z" fill="#1a1a1a"/>
<line x1="227.40" y1="464.4" x2="225.70" y2="464.4" stroke="#1a1a1a" stroke-width="0.9"/>
<path d="M386.80,464.4 l4.2,-2.0 v4.0 z" fill="#1a1a1a"/>
<line x1="390.80" y1="464.4" x2="392.50" y2="464.4" stroke="#1a1a1a" stroke-width="0.9"/>
<path d="M400.00,464.4 l-4.2,-2.0 v4.0 z" fill="#1a1a1a"/>
<line x1="396.00" y1="464.4" x2="394.30" y2="464.4" stroke="#1a1a1a" stroke-width="0.9"/>
<rect x="0.5" y="0.5" width="519" height="486" fill="none" stroke="#606060" stroke-width="1"/>
</svg></body></html>
